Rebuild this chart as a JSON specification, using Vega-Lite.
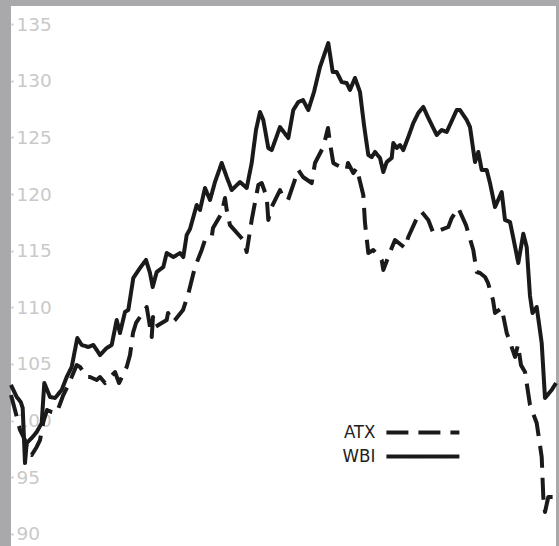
{
  "$schema": "https://vega.github.io/schema/vega-lite/v6.json",
  "width": 545,
  "height": 540,
  "autosize": {"type": "none"},
  "padding": {"left": 11, "top": 6, "right": 3, "bottom": 0},
  "background": "#a9a9ab",
  "config": {"view": {"stroke": null, "fill": "#ffffff"}},
  "datasets": {
    "wbi": [
      [11,103.15],[16.7,102.09],[20.7,101.65],[22.7,101.12],[25,96.26],[26.7,98.03],[31.7,98.47],[36.7,99.0],[41.7,99.79],[44.3,103.32],[50,102.09],[55,102.0],[61.7,102.71],[66.7,103.85],[71.7,104.74],[77.3,107.29],[81.7,106.68],[88.3,106.5],[93.3,106.68],[96.7,106.24],[100,105.79],[106.7,106.41],[111.7,106.68],[116.7,108.88],[120,107.74],[125,109.59],[128.3,109.76],[133.3,112.59],[140,113.47],[146,114.18],[150,113.03],[152.7,111.79],[156.7,113.12],[163.3,113.56],[166.7,114.79],[173.3,114.44],[180,114.79],[183.3,114.44],[186.7,116.38],[190,116.91],[196.7,119.03],[200,118.59],[205,120.53],[210,119.47],[215,121.06],[221.7,122.74],[226.7,121.5],[231.7,120.35],[240,121.06],[246.7,120.53],[251.7,122.74],[256,125.65],[260,127.24],[263.3,126.53],[268.3,124.06],[271.7,123.88],[280,125.91],[288.3,124.94],[293.3,127.41],[298.3,128.12],[303,128.29],[308.3,127.41],[314,129.0],[320,131.21],[328.3,133.32],[332.7,130.76],[336.7,130.76],[341.7,129.88],[346.7,129.79],[350,129.18],[355,130.24],[360,129.0],[364,126.09],[368.3,123.44],[371.7,123.26],[375,123.71],[380,123.18],[383.3,121.94],[386.7,122.82],[391.7,123.18],[393.3,124.5],[396.7,124.06],[400,124.32],[403.3,123.88],[408.3,125.03],[413.3,126.26],[418.3,127.15],[423.3,127.68],[428.3,126.71],[436.7,125.21],[441.7,125.65],[446.7,125.47],[456.7,127.41],[460,127.41],[466.7,126.53],[470,125.91],[475,122.82],[478.3,123.71],[481.7,122.12],[486.7,122.12],[490,120.97],[495,118.85],[501.7,120.18],[505,117.71],[510,117.53],[513.3,116.12],[518.3,113.91],[523.3,116.5],[526.7,115.32],[530,111.0],[532.5,109.5],[536.7,110.03],[541.7,106.85],[545,102.0],[551.7,102.71],[556,103.32]
    ],
    "atx": [
      [11,102.26],[15,100.94],[20,99.18],[25,98.29],[28,97.24],[31.7,96.97],[36.7,97.68],[40,98.29],[43.3,99.88],[47,100.94],[52,100.76],[56.7,100.68],[63.3,102.26],[68.3,103.15],[76.7,104.91],[80,104.74],[86.7,103.85],[90,103.85],[96.7,103.59],[100,103.85],[105,103.32],[115,104.29],[119,103.32],[126.7,104.74],[130,105.79],[133,107.74],[136,108.62],[146.7,110.03],[151.7,107.38],[153,109.15],[155,108.26],[166.7,108.88],[168,109.5],[173,108.71],[175,108.88],[183,109.76],[188,111.09],[195,113.56],[201.7,115.06],[205,115.94],[211.7,116.21],[213,117.0],[221.7,118.32],[225,119.65],[226.7,118.59],[230,117.26],[243.3,115.94],[246.7,114.88],[251.7,117.71],[258.3,120.79],[261.7,120.97],[266.7,119.74],[268.3,117.71],[271.7,118.85],[280,120.35],[283,119.74],[288,119.47],[298.3,122.12],[303,121.5],[311.7,120.97],[315,122.74],[323.3,124.15],[328,125.82],[330,124.5],[333.3,122.74],[336.7,122.56],[346.7,122.12],[348,122.74],[353.3,121.85],[356.7,122.29],[363.3,119.91],[365,117.44],[368.3,114.79],[373.3,115.06],[381.7,114.18],[383.3,113.29],[391.7,115.24],[395,115.94],[405,115.24],[408.3,116.21],[418.3,118.15],[421.7,118.41],[428.3,117.71],[433.3,116.56],[448.3,117.09],[451.7,117.88],[458.3,118.76],[466,117.26],[473.3,115.06],[476.7,113.12],[480,113.03],[485,112.68],[488,112.15],[493,110.65],[495,109.5],[501.7,109.94],[506.7,107.74],[510,106.94],[515,105.62],[518,106.7],[521,104.9],[525,104.3],[530,101.38],[536.7,99.79],[541.7,96.79],[543.3,93.26],[545,91.94],[548.3,93.26],[556.7,93.26]
    ]
  },
  "layer": [
    {
      "data": {"name": "atx"},
      "transform": [
        {"calculate": "datum[0]", "as": "t"},
        {"calculate": "datum[1]", "as": "value"},
        {"calculate": "'ATX'", "as": "series"}
      ],
      "mark": {"type": "line", "strokeWidth": 4, "strokeJoin": "round", "color": "#1a1a1a"},
      "encoding": {
        "x": {"field": "t", "type": "quantitative", "scale": {"domain": [11, 556], "nice": false, "zero": false}, "axis": null},
        "y": {"field": "value", "type": "quantitative"},
        "strokeDash": {"field": "series", "type": "nominal"}
      }
    },
    {
      "data": {"name": "wbi"},
      "transform": [
        {"calculate": "datum[0]", "as": "t"},
        {"calculate": "datum[1]", "as": "value"},
        {"calculate": "'WBI'", "as": "series"}
      ],
      "mark": {"type": "line", "strokeWidth": 4, "strokeJoin": "round", "color": "#1a1a1a"},
      "encoding": {
        "x": {"field": "t", "type": "quantitative", "axis": null},
        "y": {"field": "value", "type": "quantitative"},
        "strokeDash": {"field": "series", "type": "nominal"}
      }
    }
  ],
  "resolve": {"scale": {"x": "shared", "y": "shared", "strokeDash": "shared"}},
  "encoding": {
    "y": {
      "type": "quantitative",
      "scale": {"domain": [88.94, 136.59], "nice": false, "zero": false},
      "axis": {
        "title": null, "values": [90, 95, 100, 105, 110, 115, 120, 125, 130, 135],
        "domain": false, "grid": false, "offset": -2,
        "tickSize": 2, "tickWidth": 2, "tickColor": "#c8c8c8",
        "labelAlign": "left", "labelPadding": -5, "labelBaseline": "middle",
        "labelFont": "DejaVu Sans", "labelFontSize": 18.5, "labelColor": "#c9c9c9"
      }
    },
    "strokeDash": {
      "field": "series", "type": "nominal",
      "scale": {"domain": ["ATX", "WBI"], "range": [[22, 10], [1, 0]]},
      "legend": {
        "title": null, "orient": "none", "legendX": 400.4, "legendY": 414.9,
        "symbolType": "M-4,0L4,0", "symbolSize": 333, "symbolStrokeWidth": 4,
        "symbolStrokeColor": "#1a1a1a",
        "labelAlign": "right", "labelOffset": -59, "labelBaseline": "middle",
        "labelFont": "DejaVu Sans Condensed, Liberation Sans, sans-serif", "labelFontSize": 18.5, "labelColor": "#222222",
        "rowPadding": 3, "padding": 0
      }
    }
  }
}
